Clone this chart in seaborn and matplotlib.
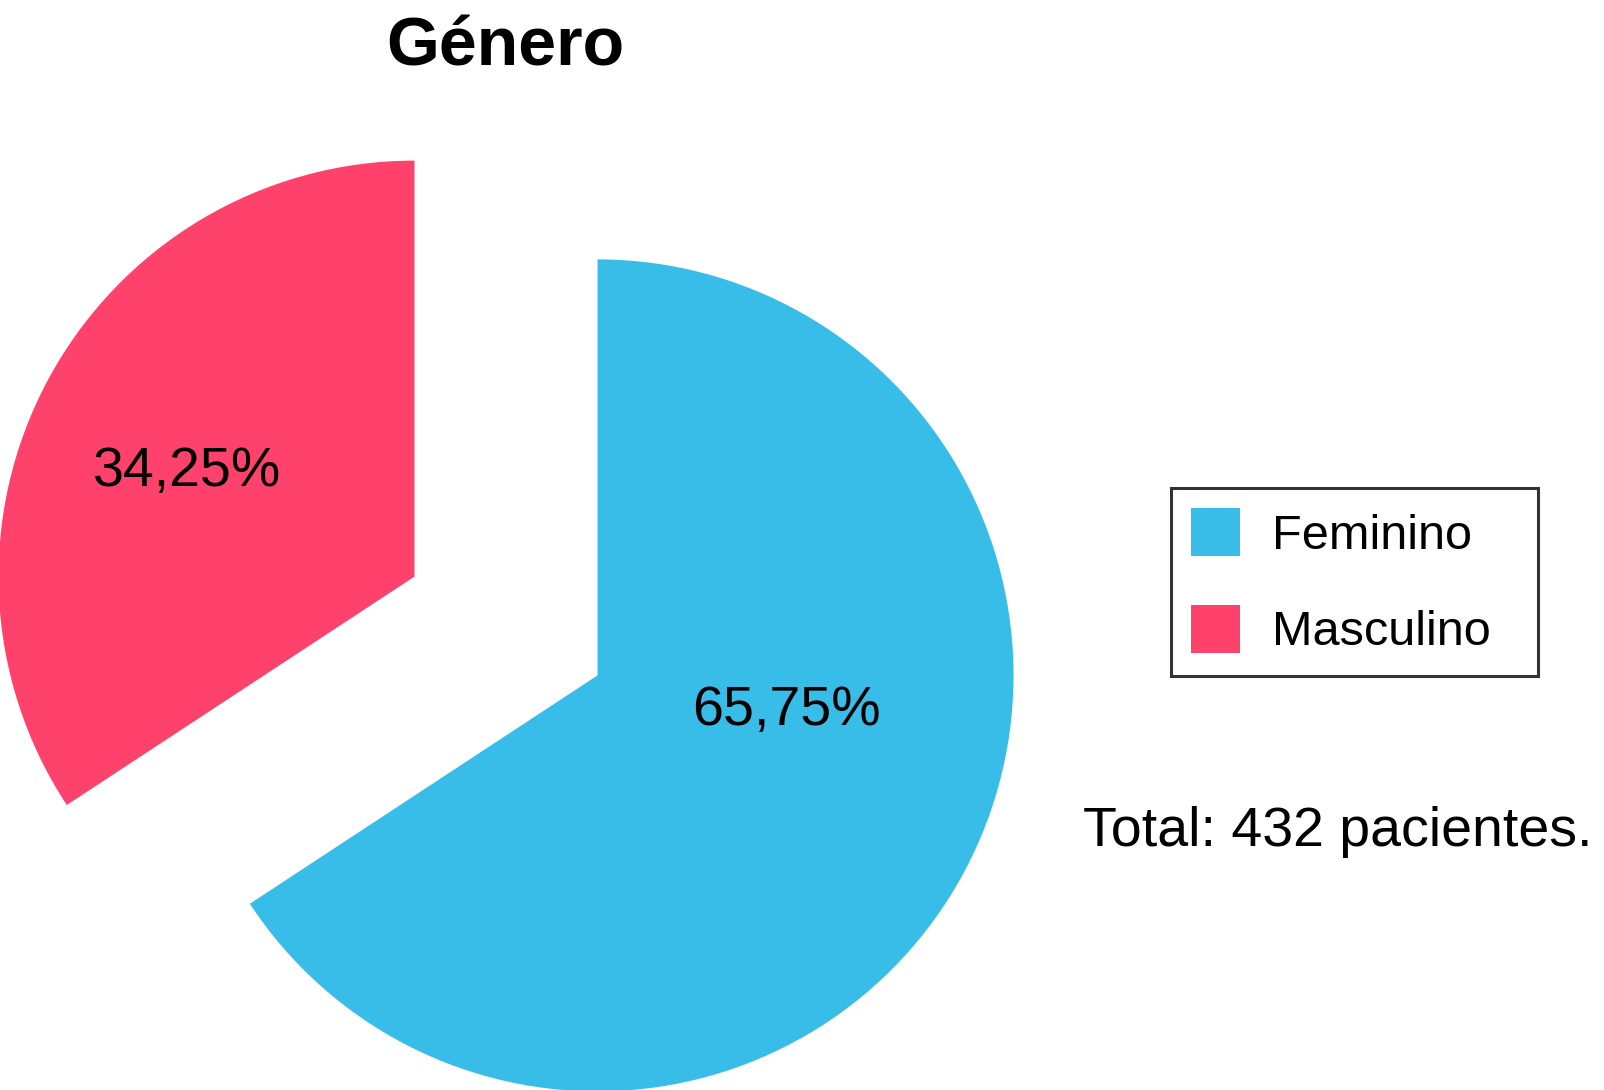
import matplotlib
matplotlib.use('Agg')
import matplotlib.pyplot as plt
import seaborn as sns

# data
labels = ['Feminino', 'Masculino']
values = [65.75, 34.25]
colors = ['#38BCE8', '#FE426B']
title = 'Género'
total_text = 'Total: 432 pacientes.'

sns.set_theme(style='white')
plt.rcParams['font.family'] = ['Liberation Sans', 'DejaVu Sans']
plt.rcParams['text.color'] = 'black'

W, H = 1604, 1090
fig = plt.figure(figsize=(W / 100, H / 100), dpi=100)
ax = fig.add_axes([0, 0, 1, 1])

wedges, texts, autotexts = ax.pie(
    values, colors=colors, startangle=90, counterclock=False,
    explode=(0.25, 0.25), radius=1,
    autopct=lambda p: ('%.2f%%' % p).replace('.', ','),
    textprops={'fontsize': 40, 'color': 'black'},
    wedgeprops={'linewidth': 0},
)

# pie centre and radius in pixels
cx, cy, r = 506, 626, 416
ax.set_xlim(-cx / r, (W - cx) / r)
ax.set_ylim(-(H - cy) / r, cy / r)
ax.set_axis_off()

# label positions (offset from each wedge's exploded centre)
autotexts[0].set_position((0.25 * 0.880 + 0.454, -0.25 * 0.475 - 0.085))
autotexts[1].set_position((-0.25 * 0.880 - 0.548, 0.25 * 0.475 + 0.252))
for t in autotexts:
    t.set_ha('center')
    t.set_va('center')

fig.text(505 / W, 1 - 47 / H, title, fontsize=49, fontweight='bold',
         ha='center', va='center', color='black')
fig.text(1338 / W, 1 - 832 / H, total_text, fontsize=40,
         ha='center', va='center', color='black')

leg = ax.legend(wedges, labels, loc='upper left',
                bbox_to_anchor=(1171 / W, 1 - 675 / H, (1538 - 1171) / W, (675 - 488) / H),
                bbox_transform=fig.transFigure, borderaxespad=0, mode='expand',
                fontsize=35, frameon=True, fancybox=False,
                handlelength=1.0, handleheight=1.12, handletextpad=0.66,
                labelspacing=0.96, borderpad=0.42)
leg.get_frame().set_edgecolor('black')
leg.get_frame().set_linewidth(2.2)
for t in leg.get_texts():
    t.set_color('black')

fig.savefig('out.png', dpi=100, facecolor='white')
